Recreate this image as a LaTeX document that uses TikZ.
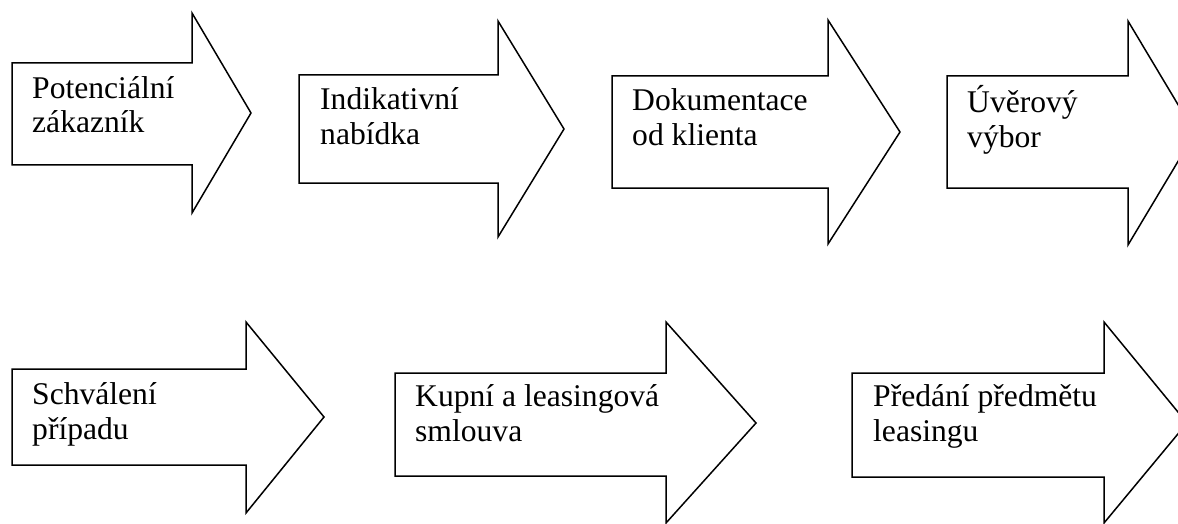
\documentclass[tikz,border=0pt]{standalone}
\usepackage{fontspec}
\setmainfont{Liberation Serif}

\begin{document}
\begin{tikzpicture}[x=1pt,y=-1pt,line join=miter,
  blockarrow/.style={draw,line width=1.5pt,fill=white},
  steptext/.style={anchor=base west,inner sep=0pt,align=left,font=\fontsize{31.6}{35}\selectfont}]
\useasboundingbox (0,0) rectangle (1178,524);
% first row
\draw[blockarrow] (12,63) -- (192,63) -- (192,13) -- (251,113) -- (192,213) -- (192,165) -- (12,165) -- cycle;
\draw[blockarrow] (299,75) -- (498,75) -- (498,21) -- (564,129) -- (498,237) -- (498,183) -- (299,183) -- cycle;
\draw[blockarrow] (612,76) -- (828,76) -- (828,20) -- (900,132) -- (828,244) -- (828,188) -- (612,188) -- cycle;
\draw[blockarrow] (947,76) -- (1128,76) -- (1128,21) -- (1195,133) -- (1128,245) -- (1128,188) -- (947,188) -- cycle;
\node[steptext] (s1) at (32,133) {Potenciální\\zákazník};
\node[steptext] (s2) at (320,145) {Indikativní\\nabídka};
\node[steptext] (s3) at (632,146) {Dokumentace\\od klienta};
\node[steptext] (s4) at (967,147) {Úvěrový\\výbor};
% second row
\draw[blockarrow] (12,369) -- (246,369) -- (246,322) -- (324,417) -- (246,513) -- (246,465) -- (12,465) -- cycle;
\draw[blockarrow] (395,373) -- (666,373) -- (666,322) -- (756,423) -- (666,523) -- (666,476) -- (395,476) -- cycle;
\draw[blockarrow] (852,373) -- (1104,373) -- (1104,322) -- (1187,423) -- (1104,523) -- (1104,477) -- (852,477) -- cycle;
\node[steptext] (s5) at (32,439) {Schválení\\případu};
\node[steptext] (s6) at (415,441) {Kupní a leasingová\\smlouva};
\node[steptext] (s7) at (873,441) {Předání předmětu\\leasingu};
\end{tikzpicture}
\end{document}
